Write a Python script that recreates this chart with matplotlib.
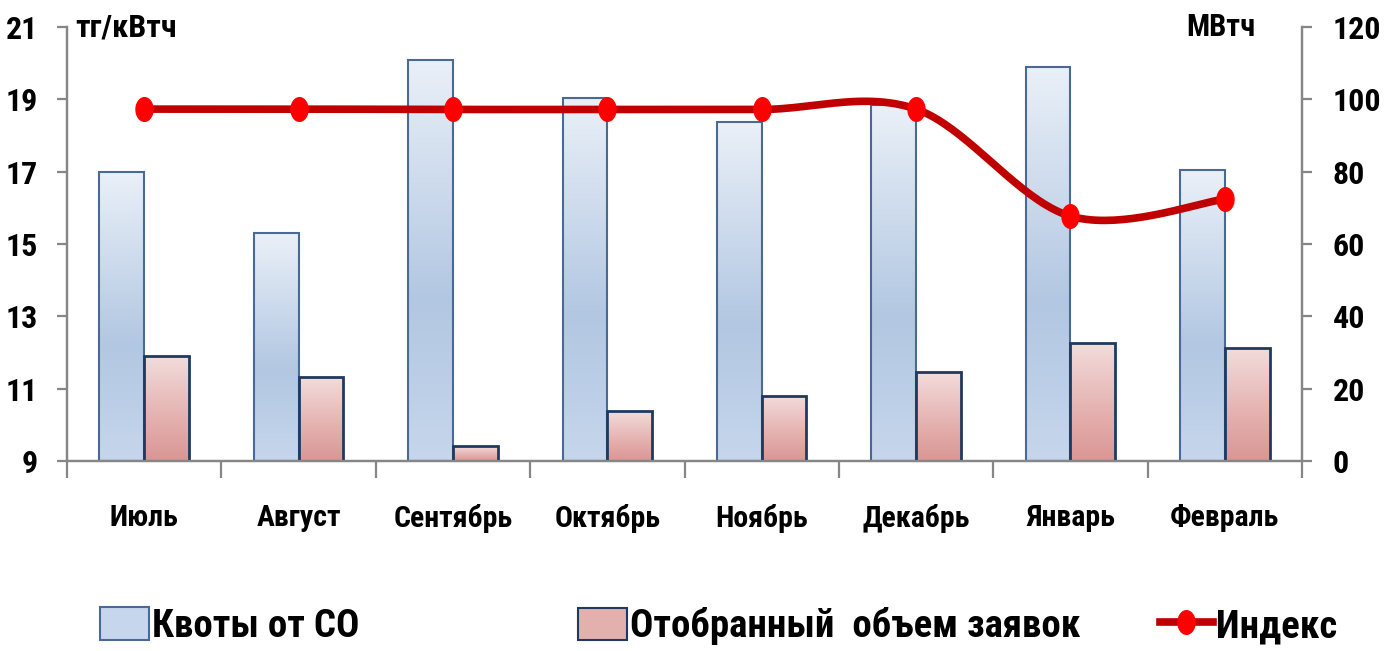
import numpy as np
import matplotlib
matplotlib.use("Agg")
import matplotlib.pyplot as plt
from matplotlib.path import Path
from matplotlib.lines import Line2D
from matplotlib.patches import Patch
from matplotlib.colors import to_rgb

plt.rcParams['font.family'] = ['Roboto Condensed', 'PT Sans Narrow', 'Open Sans Condensed',
                               'Liberation Sans Narrow', 'DejaVu Sans']
plt.rcParams['font.weight'] = 'bold'

months = ['Июль', 'Август', 'Сентябрь', 'Октябрь', 'Ноябрь', 'Декабрь', 'Январь', 'Февраль']
quotas = [80, 63, 111, 100.4, 93.7, 98.4, 109, 80.4]      # МВтч
selected = [29, 23.2, 4.1, 13.8, 18, 24.6, 32.6, 31.2]    # МВтч
index = [18.73, 18.73, 18.72, 18.72, 18.72, 18.73, 15.77, 16.24]  # тг/кВтч

grid_c = '#868686'

fig = plt.figure(figsize=(13.9, 6.51), dpi=100)
ax = fig.add_axes([0.0482, 0.2919, 0.8885, 0.6666])
ax2 = ax.twinx()

x = np.arange(len(months))
w = 0.29


def grad_img(c_top, c_mid, c_bot):
    t = np.linspace(0, 1, 256)[:, None]
    a, m, b = np.array(to_rgb(c_top)), np.array(to_rgb(c_mid)), np.array(to_rgb(c_bot))
    img = np.where(t < 0.6, a + (m - a) * (t / 0.6), m + (b - m) * ((t - 0.6) / 0.4))
    return img[:, None, :]


blue_img = grad_img('#eaf0f8', '#b2c7e2', '#c6d6ec')
red_img = grad_img('#f2dcdb', '#e4b0ae', '#d99694')

bars1 = ax.bar(x - w / 2, quotas, w, facecolor='none', edgecolor='#4a6a94', lw=1.5, zorder=3)
bars2 = ax.bar(x + w / 2, selected, w, facecolor='none', edgecolor='#1f3a60', lw=2, zorder=3)
for bars, img in ((bars1, blue_img), (bars2, red_img)):
    for b in bars:
        x0, y0 = b.get_x(), b.get_y()
        im = ax.imshow(img, extent=[x0, x0 + b.get_width(), y0, y0 + b.get_height()],
                       aspect='auto', zorder=2, interpolation='bilinear')
        im.set_clip_path(b)

ax.set_xlim(-0.5, len(months) - 0.5)
ax.set_ylim(0, 120)
ax.set_yticks(np.arange(0, 121, 20))
ax.yaxis.tick_right()


# smooth line through the points (Catmull-Rom, like the spreadsheet's smoothed line)
def smooth(xs, ys, n=40):
    xs, ys = np.asarray(xs, float), np.asarray(ys, float)
    px = np.concatenate([[xs[0]], xs, [xs[-1]]])
    py = np.concatenate([[ys[0]], ys, [ys[-1]]])
    ox, oy = [], []
    t = np.linspace(0, 1, n)
    h00 = 2 * t**3 - 3 * t**2 + 1
    h10 = t**3 - 2 * t**2 + t
    h01 = -2 * t**3 + 3 * t**2
    h11 = t**3 - t**2
    for i in range(1, len(px) - 2):
        m0x, m1x = (px[i + 1] - px[i - 1]) / 2, (px[i + 2] - px[i]) / 2
        m0y, m1y = (py[i + 1] - py[i - 1]) / 2, (py[i + 2] - py[i]) / 2
        ox.append(h00 * px[i] + h10 * m0x + h01 * px[i + 1] + h11 * m1x)
        oy.append(h00 * py[i] + h10 * m0y + h01 * py[i + 1] + h11 * m1y)
    return np.concatenate(ox), np.concatenate(oy)


sx, sy = smooth(x, index)
ax2.plot(sx, sy, color='#c00000', lw=5.5, solid_capstyle='round', zorder=4)
th = np.linspace(0, 2 * np.pi, 60)
ellipse = Path(np.column_stack([0.72 * np.cos(th), np.sin(th)]), closed=True)
ax2.plot(x, index, ls='none', marker=ellipse, ms=17, color='#ff0000', mec='#ff0000', zorder=5)
ax2.set_ylim(9, 21)
ax2.set_yticks(np.arange(9, 22, 2))
ax2.yaxis.tick_left()

for a in (ax, ax2):
    a.spines['top'].set_visible(False)
    for s in ('left', 'right', 'bottom'):
        a.spines[s].set_color(grid_c)
        a.spines[s].set_linewidth(1.6)
ax.tick_params(axis='y', which='major', length=7, width=1.6, color=grid_c, pad=15, labelsize=23)
ax2.tick_params(axis='y', which='major', length=7, width=1.6, color=grid_c, pad=14, labelsize=23)
ax.set_xticks(x)
ax.set_xticklabels(months)
ax.set_xticks(np.arange(-0.5, len(months), 1), minor=True)
ax.tick_params(axis='x', which='major', length=0, pad=31, labelsize=21.5)
ax.tick_params(axis='x', which='minor', length=12, width=1.6, color=grid_c)
ax2.tick_params(axis='x', length=0)

fig.text(0.054, 0.958, 'тг/кВтч', fontsize=23, ha='left', va='center')
fig.text(0.903, 0.958, 'МВтч', fontsize=22, ha='right', va='center')

handles = [Patch(facecolor='#c6d6ec', edgecolor='#4a6a94', lw=1.5),
           Patch(facecolor='#e4b0ae', edgecolor='#1f3a60', lw=1.5),
           Line2D([0], [0], color='#c00000', lw=5.5, marker=ellipse, ms=17,
                  mfc='#ff0000', mec='#ff0000')]
labels = ['Квоты от СО', 'Отобранный  объем заявок', 'Индекс']
starts = [100, 578, 1160]
hlens = [1.25, 1.25, 1.35]
for h, lab, xs, hl in zip(handles, labels, starts, hlens):
    fig.legend([h], [lab], loc='center left', bbox_to_anchor=(xs / 1390, 0.038),
               frameon=False, fontsize=28, handlelength=hl, handleheight=0.9,
               handletextpad=0.1, borderpad=0, borderaxespad=0)

fig.savefig('out.png', dpi=100)
